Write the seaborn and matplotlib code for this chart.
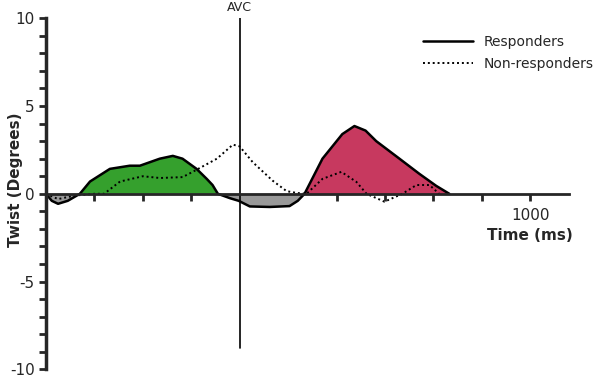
import numpy as np
import pandas as pd
import seaborn as sns
import matplotlib.pyplot as plt
from matplotlib.lines import Line2D

# responders twist curve (ms, degrees)
resp_t = [0, 12, 25, 45, 70, 91, 132, 173, 194, 235, 262, 282, 311, 332, 344, 355,
          380, 398, 421, 462, 503, 520, 534, 571, 612, 637, 660, 682, 730, 771, 806, 833]
resp_v = [0, -0.4, -0.57, -0.4, 0, 0.7, 1.42, 1.6, 1.6, 2.0, 2.16, 2.0, 1.42, 0.85, 0.5, 0,
          -0.25, -0.4, -0.72, -0.75, -0.7, -0.4, 0, 2.0, 3.4, 3.86, 3.6, 3.0, 2.0, 1.14, 0.45, 0]

# non-responders twist curve
nonr_t = [0, 25, 60, 100, 120, 153, 200, 235, 282, 303, 353, 386, 400, 427, 468, 497,
          518, 538, 571, 610, 641, 662, 699, 736, 765, 792, 812]
nonr_v = [0, -0.3, -0.1, 0, 0, 0.7, 1.0, 0.9, 0.95, 1.25, 2.0, 2.8, 2.7, 1.8, 0.75, 0.15,
          0.05, 0, 0.85, 1.25, 0.68, 0, -0.45, 0, 0.5, 0.5, 0]

avc_ms = 400
x_ticks = [100, 200, 300, 400, 500, 600, 700, 800, 900, 1000]
x_labels = ['', '', '', '', '', '', '', '', '', '1000']
y_ticks = [-10, -5, 0, 5, 10]
y_labels = ['-10', '-5', '0', '5', '10']

resp = pd.DataFrame({'Time (ms)': resp_t, 'Twist': resp_v, 'group': 'Responders'})
nonr = pd.DataFrame({'Time (ms)': nonr_t, 'Twist': nonr_v, 'group': 'Non-responders'})
df = pd.concat([resp, nonr])

sns.set_style('ticks')
plt.rcParams['font.family'] = ['DejaVu Sans']

f, ax = plt.subplots(figsize=(5.97, 3.80), dpi=100)
f.subplots_adjust(left=0.077, right=0.953, top=0.952, bottom=0.028)

t = np.array(resp_t)
v = np.array(resp_v)
ax.fill_between(t, v, 0, where=(v >= 0) & (t <= avc_ms), color='#35a02d', interpolate=True, lw=0)
ax.fill_between(t, v, 0, where=(v >= 0) & (t >= avc_ms), color='#c7395f', interpolate=True, lw=0)
ax.fill_between(t, v, 0, where=(v <= 0), color='#999999', interpolate=True, lw=0)

sns.lineplot(ax=ax, data=df, x='Time (ms)', y='Twist', style='group',
             dashes={'Responders': '', 'Non-responders': (1, 1.5)},
             color='black', linewidth=1.8, legend=False)
ax.lines[-1].set_linewidth(1.4)

ax.plot([avc_ms, avc_ms], [10, -8.8], color='black', lw=1.2)
ax.text(avc_ms, 10.25, 'AVC', ha='center', va='bottom', fontsize=9)

ax.set_xlim(0, 1080)
ax.set_ylim(-10, 10)
ax.spines['bottom'].set_position(('data', 0))
ax.spines['right'].set_visible(False)
ax.spines['top'].set_visible(False)
ax.spines['left'].set_linewidth(2.5)
ax.spines['bottom'].set_linewidth(2)

ax.set_xticks(x_ticks)
ax.set_xticklabels(x_labels, fontsize=11)
ax.set_yticks(y_ticks)
ax.set_yticklabels(y_labels, fontsize=11)
ax.set_yticks(np.arange(-10, 11, 1), minor=True)
ax.tick_params(axis='x', direction='out', length=5, width=2, pad=5)
ax.tick_params(axis='y', which='both', direction='out', length=5, width=2, pad=3)
ax.set_xlabel('')
ax.set_ylabel('Twist (Degrees)', fontsize=11, fontweight='bold')
ax.yaxis.set_label_coords(-0.044, 0.54)
ax.text(1000, -2.4, 'Time (ms)', ha='center', va='center', fontsize=11, fontweight='bold')

handles = [Line2D([], [], color='black', lw=1.8),
           Line2D([], [], color='black', lw=1.4, linestyle=(0, (1, 1.5)))]
ax.legend(handles, ['Responders', 'Non-responders'], loc='upper left',
          bbox_to_anchor=(423 / 597, 1 - 35 / 380), bbox_transform=f.transFigure,
          frameon=False, fontsize=10, borderpad=0, borderaxespad=0,
          handlelength=3.6, handletextpad=0.8, labelspacing=0.55)

f.savefig('out.png', dpi=100)
